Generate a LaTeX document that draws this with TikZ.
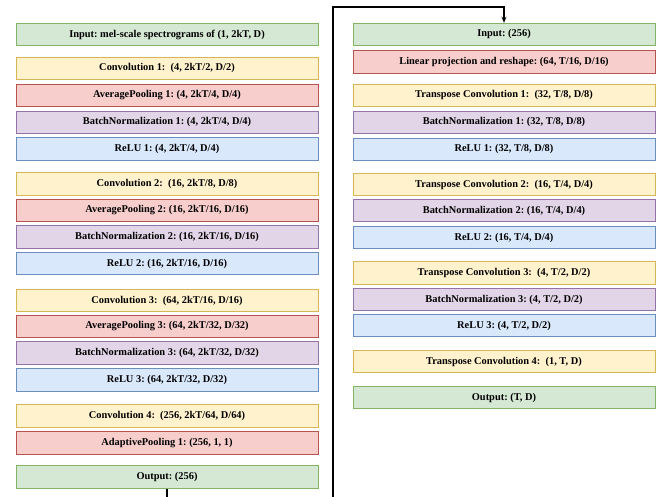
\documentclass[tikz,border=0pt]{standalone}
\usepackage{fontspec}
\setmainfont{Liberation Serif}
\usetikzlibrary{arrows.meta}
\definecolor{gF}{HTML}{D5E8D4}\definecolor{gD}{HTML}{82B366}
\definecolor{yF}{HTML}{FFF2CC}\definecolor{yD}{HTML}{D6B656}
\definecolor{rF}{HTML}{F8CECC}\definecolor{rD}{HTML}{B85450}
\definecolor{pF}{HTML}{E1D5E7}\definecolor{pD}{HTML}{9673A6}
\definecolor{bF}{HTML}{DAE8FC}\definecolor{bD}{HTML}{6C8EBF}
\tikzset{
  blk/.style={minimum width=302pt, minimum height=22.5pt, inner sep=0pt, line width=0.9pt,
    font=\fontsize{10.4}{12}\selectfont\bfseries\frenchspacing, text=black},
  grn/.style={blk, fill=gF, draw=gD},
  yel/.style={blk, fill=yF, draw=yD},
  red/.style={blk, fill=rF, draw=rD},
  pur/.style={blk, fill=pF, draw=pD},
  blu/.style={blk, fill=bF, draw=bD},
  conn/.style={line width=1.3pt, draw=black, -{Stealth[length=6pt,width=5pt]}}
}
\newcommand\LB[4]{\node[#1] (#2) at (167,#3) {#4};}
\newcommand\RB[4]{\node[#1] (#2) at (504,#3) {#4};}
\begin{document}
\begin{tikzpicture}[x=1pt,y=-1pt]
\clip (0,0) rectangle (672,497);
\fill[white] (0,0) rectangle (672,497);
\LB{grn}{lin}{34.5}{Input: mel-scale spectrograms of (1, 2kT, D)}
\LB{yel}{lc1}{68.5}{Convolution 1:\ \ (4, 2kT/2, D/2)}
\LB{red}{lp1}{95.5}{AveragePooling 1: (4, 2kT/4, D/4)}
\LB{pur}{lb1}{122.5}{BatchNormalization 1: (4, 2kT/4, D/4)}
\LB{blu}{lr1}{149}{ReLU 1: (4, 2kT/4, D/4)}
\LB{yel}{lc2}{184}{Convolution 2:\ \ (16, 2kT/8, D/8)}
\LB{red}{lp2}{210.5}{AveragePooling 2: (16, 2kT/16, D/16)}
\LB{pur}{lb2}{237}{BatchNormalization 2: (16, 2kT/16, D/16)}
\LB{blu}{lr2}{263.5}{ReLU 2: (16, 2kT/16, D/16)}
\LB{yel}{lc3}{300.5}{Convolution 3:\ \ (64, 2kT/16, D/16)}
\LB{red}{lp3}{326.5}{AveragePooling 3: (64, 2kT/32, D/32)}
\LB{pur}{lb3}{353}{BatchNormalization 3: (64, 2kT/32, D/32)}
\LB{blu}{lr3}{380}{ReLU 3: (64, 2kT/32, D/32)}
\LB{yel}{lc4}{416}{Convolution 4:\ \ (256, 2kT/64, D/64)}
\LB{red}{la1}{443}{AdaptivePooling 1: (256, 1, 1)}
\LB{grn}{lout}{477}{Output: (256)}
\RB{grn}{rin}{34.5}{Input: (256)}
\RB{red}{rlin}{62}{Linear projection and reshape: (64, T/16, D/16)}
\RB{yel}{rt1}{95.5}{Transpose Convolution 1:\ \ (32, T/8, D/8)}
\RB{pur}{rb1}{122.5}{BatchNormalization 1: (32, T/8, D/8)}
\RB{blu}{rr1}{149.5}{ReLU 1: (32, T/8, D/8)}
\RB{yel}{rt2}{184.5}{Transpose Convolution 2:\ \ (16, T/4, D/4)}
\RB{pur}{rb2}{210.5}{BatchNormalization 2: (16, T/4, D/4)}
\RB{blu}{rr2}{237.5}{ReLU 2: (16, T/4, D/4)}
\RB{yel}{rt3}{273}{Transpose Convolution 3:\ \ (4, T/2, D/2)}
\RB{pur}{rb3}{299.5}{BatchNormalization 3: (4, T/2, D/2)}
\RB{blu}{rr3}{325.5}{ReLU 3: (4, T/2, D/2)}
\RB{yel}{rt4}{361.5}{Transpose Convolution 4:\ \ (1, T, D)}
\RB{grn}{rout}{397.5}{Output: (T, D)}
\coordinate (c1) at (167,510);
\coordinate (c2) at (333,510);
\coordinate (c3) at (333,7);
\coordinate (c4) at (504,7);
\draw[conn] (lout.south) -- (c1) -- (c2) -- (c3) -- (c4) -- (rin.north);
\end{tikzpicture}
\end{document}
